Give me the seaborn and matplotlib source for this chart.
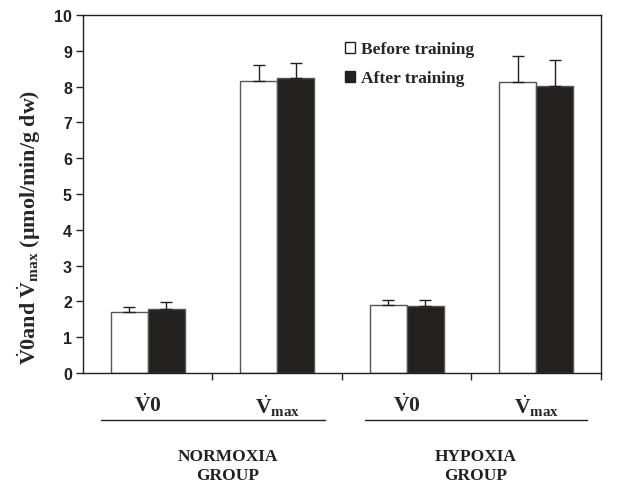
import pandas as pd
import seaborn as sns
import matplotlib.pyplot as plt

# values
categories = ['N_V0', 'N_Vmax', 'H_V0', 'H_Vmax']
tick_labels = [r'$\dot{\mathbf{V}}\mathbf{0}$', r'$\dot{\mathbf{V}}\mathbf{_{max}}$',
               r'$\dot{\mathbf{V}}\mathbf{0}$', r'$\dot{\mathbf{V}}\mathbf{_{max}}$']
before = [1.69, 8.16, 1.89, 8.13]
after = [1.79, 8.23, 1.86, 8.02]
before_err = [0.16, 0.44, 0.14, 0.73]
after_err = [0.19, 0.42, 0.17, 0.71]
series = ['Before training', 'After training']
groups = ['NORMOXIA\nGROUP', 'HYPOXIA\nGROUP']

sns.set_style('white')
plt.rcParams['mathtext.fontset'] = 'custom'
plt.rcParams['mathtext.rm'] = 'Liberation Serif'
plt.rcParams['mathtext.bf'] = 'Liberation Serif:bold'
plt.rcParams['mathtext.it'] = 'Liberation Serif:italic'

df = pd.DataFrame({
    'cat': categories * 2,
    'val': before + after,
    'err': before_err + after_err,
    'series': [series[0]] * 4 + [series[1]] * 4,
})

fig = plt.figure(figsize=(6.24, 4.85), dpi=100)
ax = fig.add_axes([0.133, 0.229, 0.830, 0.738])

sns.barplot(data=df, x='cat', y='val', hue='series', order=categories,
            hue_order=series, palette=['white', '#231f20'], width=0.57,
            edgecolor='#555555', linewidth=1.0, errorbar=None, ax=ax)

# one-sided error bars on top of each bar
bars = [p for p in ax.patches if p.get_height() > 0]
errs = before_err + after_err
for p, e in zip(bars, errs):
    xc = p.get_x() + p.get_width() / 2
    ax.errorbar(xc, p.get_height(), yerr=[[0], [e]], fmt='none',
                ecolor='#231f20', elinewidth=1.0, capsize=4, capthick=1.0)

ax.set_ylim(0, 10)
ax.set_xlim(-0.5, 3.5)
ax.set_yticks(range(0, 11))
ax.set_yticklabels([str(i) for i in range(0, 11)], fontfamily='Liberation Sans',
                   fontweight='bold', fontsize=11.5, color='#231f20')
ax.tick_params(axis='y', direction='out', length=5, width=1, left=True, pad=3)

ax.set_xticks(range(4))
ax.set_xticklabels(tick_labels, fontsize=15.5)
ax.tick_params(axis='x', which='major', length=0, pad=14)
ax.set_xticks([0.5, 1.5, 2.5, 3.5], minor=True)
ax.tick_params(axis='x', which='minor', direction='out', length=5, width=1, bottom=True)

for s in ax.spines.values():
    s.set_color('#231f20')
    s.set_linewidth(1.0)

ax.set_xlabel('')
ax.set_ylabel(r'$\dot{\mathbf{V}}\mathbf{0and\ }\dot{\mathbf{V}}\mathbf{_{max}}$'
              + ' (µmol/min/g dw)', fontfamily='Liberation Serif',
              fontweight='bold', fontsize=15.8)
ax.yaxis.set_label_coords(-0.077, 0.41)

# group underlines and labels
trans = ax.get_xaxis_transform()
for x0, x1, xt, label in [(-0.36, 1.37, 0.62, groups[0]), (1.68, 3.39, 2.53, groups[1])]:
    ax.plot([x0, x1], [-0.131, -0.131], color='#231f20', lw=1.0,
            transform=trans, clip_on=False)
    ax.text(xt, -0.258, label, transform=trans, ha='center', va='center',
            fontfamily='Liberation Serif', fontweight='bold', fontsize=12.5,
            color='#231f20', linespacing=1.25)

leg = ax.legend(loc='upper left', bbox_to_anchor=(0.505, 0.927), frameon=False,
                borderpad=0, borderaxespad=0,
                handlelength=0.6, handleheight=0.6, handletextpad=0.35,
                labelspacing=0.75, prop={'family': 'Liberation Serif',
                                         'weight': 'bold', 'size': 12.5})
for h in leg.legend_handles:
    h.set_edgecolor('#231f20')

fig.savefig('out.png', dpi=100)
